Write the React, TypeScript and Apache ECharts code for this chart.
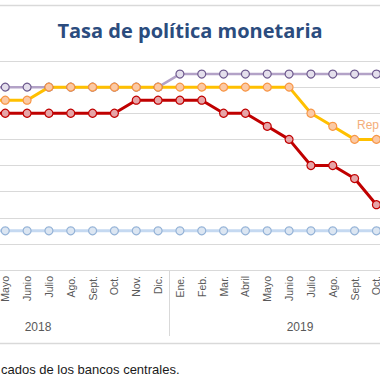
import React, { useEffect, useRef } from "react";
import * as echarts from "echarts";

const months = [
  "Ene.", "Feb.", "Mar.", "Abril", "Mayo", "Junio", "Julio", "Ago.", "Sept.", "Oct.", "Nov.", "Dic.",
  "Ene.", "Feb.", "Mar.", "Abril", "Mayo", "Junio", "Julio", "Ago.", "Sept.", "Oct.", "Nov.", "Dic.",
];
const years = ["2018", "2019"];
// first and last month indexes that are visible in the picture
const firstShown = 4;
const lastShown = 21;

const honduras = ["-", "-", "-", 5.5, 5.5, 5.5, 5.5, 5.5, 5.5, 5.5, 5.5, 5.5,
  5.75, 5.75, 5.75, 5.75, 5.75, 5.75, 5.75, 5.75, 5.75, 5.75, 5.75, "-"];
const repDominicana = ["-", "-", "-", 5.25, 5.25, 5.25, 5.5, 5.5, 5.5, 5.5, 5.5, 5.5,
  5.5, 5.5, 5.5, 5.5, 5.5, 5.5, 5.0, 4.75, 4.5, 4.5, 4.5, "-"];
const costaRica = ["-", "-", "-", 5.0, 5.0, 5.0, 5.0, 5.0, 5.0, 5.0, 5.25, 5.25,
  5.25, 5.25, 5.0, 5.0, 4.75, 4.5, 4.0, 4.0, 3.75, 3.25, "-", "-"];
const guatemala = ["-", "-", "-", 2.75, 2.75, 2.75, 2.75, 2.75, 2.75, 2.75, 2.75, 2.75,
  2.75, 2.75, 2.75, 2.75, 2.75, 2.75, 2.75, 2.75, 2.75, 2.75, 2.75, "-"];

const GRID_COLOR = "#D9D9D9";

function lineSeries(name: string, data: any[], line: string, border: string, fill: string, width: number) {
  return {
    name,
    type: "line",
    data,
    symbol: "circle",
    symbolSize: 8,
    lineStyle: { color: line, width },
    itemStyle: { color: fill, borderColor: border, borderWidth: 1.2 },
    xAxisIndex: 0,
  };
}

export default function App() {
  const ref = useRef<HTMLDivElement>(null);
  useEffect(() => {
    if (!ref.current) return;
    const chart = echarts.init(ref.current, null, { renderer: "svg" });
    chart.setOption({
      animation: false,
      backgroundColor: "#ffffff",
      title: {
        text: "Tasa de política monetaria",
        left: "center",
        top: 15,
        textStyle: { fontFamily: "Open Sans", fontWeight: "bold", fontSize: 20, color: "#2B4C7E" },
      },
      grid: { left: -93, right: -51, top: 61, bottom: 110, containLabel: false, outerBoundsMode: "none" },
      xAxis: [
        {
          type: "category",
          data: months,
          boundaryGap: true,
          axisLine: { show: true, lineStyle: { color: GRID_COLOR, width: 1 } },
          axisTick: { show: false },
          axisLabel: {
            rotate: 90,
            interval: (i: number) => i >= firstShown && i <= lastShown,
            margin: 6,
            color: "#595959",
            fontSize: 10.5,
            fontFamily: "Liberation Sans",
          },
        },
        {
          type: "category",
          data: years,
          position: "bottom",
          boundaryGap: true,
          axisLine: { show: false },
          axisTick: { show: true, length: 66, lineStyle: { color: GRID_COLOR, width: 1 } },
          axisLabel: { margin: 51, color: "#595959", fontSize: 12, fontFamily: "Liberation Sans" },
        },
      ],
      yAxis: {
        type: "value",
        min: 2,
        max: 6,
        interval: 0.5,
        axisLabel: { show: false },
        axisLine: { show: false },
        axisTick: { show: false },
        splitLine: { lineStyle: { color: GRID_COLOR, width: 1 } },
      },
      series: [
        lineSeries("Honduras", honduras, "#B3A2C7", "#6E5A8E", "#E4DFEC", 2.5),
        lineSeries("Rep. Dominicana", repDominicana, "#FFC000", "#F79646", "#FBC9A5", 3),
        lineSeries("Costa Rica", costaRica, "#C00000", "#C00000", "#E6A5A8", 3),
        lineSeries("Guatemala", guatemala, "#C5D9F1", "#95B3D7", "#DCE6F2", 3),
      ],
      graphic: [
        { type: "line", shape: { x1: 0, y1: 5.5, x2: 380, y2: 5.5 }, style: { stroke: GRID_COLOR, lineWidth: 1.5 } },
        { type: "line", shape: { x1: 0, y1: 343.5, x2: 380, y2: 343.5 }, style: { stroke: GRID_COLOR, lineWidth: 1.5 } },
        {
          type: "text",
          x: 357,
          y: 125,
          style: { text: "Rep", fill: "#F4AE7A", fontSize: 12, fontFamily: "Liberation Sans", verticalAlign: "middle" },
        },
        {
          type: "text",
          x: 1,
          y: 369,
          style: { text: "cados de los bancos centrales.", fill: "#1a1a1a", fontSize: 13, fontFamily: "Liberation Sans", verticalAlign: "middle" },
        },
      ],
    });
    return () => chart.dispose();
  }, []);
  return <div ref={ref} style={{ width: 380, height: 380, position: "fixed", left: 0, top: 0 }} />;
}
